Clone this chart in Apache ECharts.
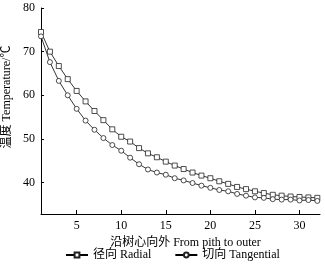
<!DOCTYPE html>
<html>
<head>
<meta charset="utf-8">
<script src="https://cdn.jsdelivr.net/npm/echarts@6/dist/echarts.min.js"></script>
<style>
  html, body { margin: 0; padding: 0; background: #fff; }
  #chart { width: 325px; height: 270px; }
</style>
</head>
<body>
<div id="chart"></div>
<script>
// 沿树心向外的位置 1..32
const positions = Array.from({ length: 32 }, (_, i) => i + 1)
const radial = [74.5, 70.0, 66.7, 63.7, 61.0, 58.6, 56.4, 54.3, 52.2, 50.5, 49.4, 47.9, 46.7, 45.8, 44.8, 43.9,
  43.1, 42.3, 41.6, 41.0, 40.3, 39.7, 39.0, 38.5, 38.0, 37.6, 37.2, 37.0, 36.8, 36.7, 36.6, 36.5]
const tangential = [73.5, 67.6, 63.3, 60.0, 56.9, 54.2, 52.1, 50.2, 48.6, 47.3, 45.7, 44.2, 43.0, 42.3, 41.8, 41.0,
  40.5, 39.9, 39.3, 38.8, 38.3, 38.0, 37.4, 37.0, 36.6, 36.5, 36.2, 36.1, 36.1, 35.9, 36.0, 35.8]
const xTicks = [5, 10, 15, 20, 25, 30]
const yTicks = [40, 50, 60, 70, 80]

const serif = '"Liberation Serif", "Noto Sans CJK SC", serif'

const chartDom = document.getElementById('chart')
const chart = echarts.init(chartDom)

function pairs(vals) {
  return vals.map((v, i) => [positions[i], v])
}

// 两条曲线样式一致，只有标记不同
function lineSeries(name, vals, symbol) {
  return {
    name,
    type: 'line',
    data: pairs(vals),
    symbol,
    symbolSize: 5,
    showSymbol: true,
    showAllSymbol: true,
    lineStyle: { color: '#000', width: 0.8 },
    itemStyle: { color: '#fff', borderColor: '#222', borderWidth: 0.8 },
  }
}

const chartOptions = {
  animation: false,
  textStyle: { fontFamily: serif, color: '#000' },
  grid: { left: 41, right: 5, top: 8, bottom: 56, containLabel: false, outerBoundsMode: 'none' },
  legend: {
    orient: 'horizontal',
    bottom: 4,
    left: 60,
    width: 260,
    itemGap: 23,
    itemWidth: 22,
    itemHeight: 6,
    textStyle: { fontFamily: serif, fontSize: 12, color: '#000' },
    data: ['径向 Radial', '切向 Tangential'],
  },
  xAxis: {
    type: 'value',
    min: 1,
    max: 32.3,
    name: '沿树心向外 From pith to outer',
    nameLocation: 'middle',
    nameGap: 22,
    nameTextStyle: { fontFamily: serif, fontSize: 12, color: '#000', padding: [0, 0, 0, 10] },
    axisLine: { lineStyle: { color: '#000', width: 1 } },
    axisTick: { inside: true, length: 4, customValues: xTicks, lineStyle: { color: '#000' } },
    axisLabel: { customValues: xTicks, fontFamily: serif, fontSize: 12, color: '#000', margin: 6 },
    splitLine: { show: false },
  },
  yAxis: {
    type: 'value',
    min: 32.8,
    max: 80,
    name: '温度 Temperature/℃',
    nameLocation: 'middle',
    nameGap: 28,
    nameMoveOverlap: false,
    nameTextStyle: { fontFamily: serif, fontSize: 12, color: '#000', padding: [0, 0, 0, 28] },
    axisLine: { show: true, lineStyle: { color: '#000', width: 1 } },
    axisTick: { show: true, inside: true, length: 3, customValues: yTicks, lineStyle: { color: '#000' } },
    axisLabel: { customValues: yTicks, fontFamily: serif, fontSize: 12, color: '#000', margin: 6 },
    splitLine: { show: false },
  },
  series: [
    lineSeries('径向 Radial', radial, 'rect'),
    lineSeries('切向 Tangential', tangential, 'circle'),
  ],
}

chart.setOption(chartOptions)
</script>
</body>
</html>
